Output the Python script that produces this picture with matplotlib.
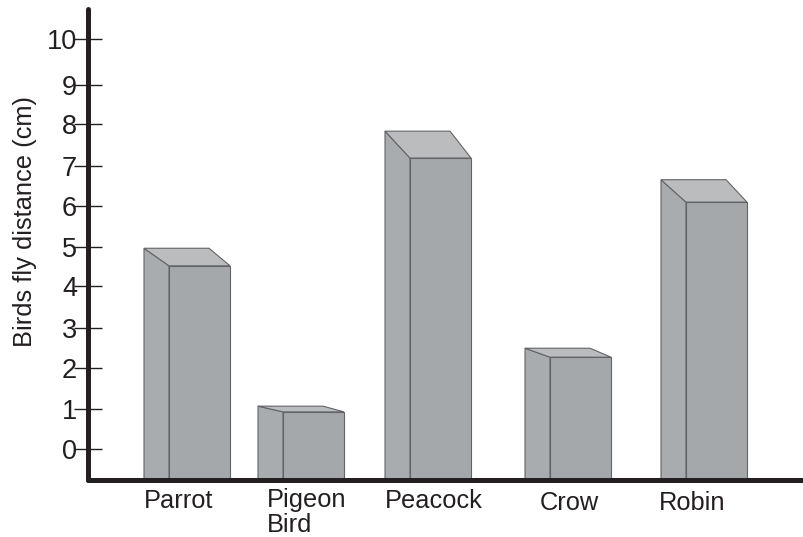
import matplotlib
matplotlib.use('Agg')
import matplotlib.pyplot as plt
from matplotlib.patches import Polygon

birds = ['Parrot', 'Pigeon\nBird', 'Peacock', 'Crow', 'Robin']
front_height = [4.49, 0.91, 7.13, 2.25, 6.05]
back_height = [4.92, 1.05, 7.79, 2.47, 6.60]
tick_labels = ['0', '1', '2', '3', '4', '5', '6', '7', '8', '9', '10']
# the ticks in the picture are not quite evenly spaced
tick_values = [0, 0.98, 1.98, 2.97, 3.99, 4.95, 5.96, 6.94, 7.97, 8.92, 10.06]

W, H = 804, 537
X0, Y0 = 88, 480      # axis corner in pixels
PX_PER_UNIT = 40.8

front_left = [81, 195, 322, 462, 598]
label_x = [56, 179, 297, 452, 571]
label_y = [-0.98, -0.96, -0.98, -1.02, -1.02]
BAR_W = 61
BACK_W = 65
DEPTH = 25
BASE = -0.76

side_col = '#a9acae'
front_col = '#a5a8aa'
top_col = '#bbbcbe'
edge_col = '#626467'
axis_col = '#231f20'

plt.rcParams['font.family'] = ['Liberation Sans', 'DejaVu Sans']

fig = plt.figure(figsize=(W / 100, H / 100), dpi=100)
ax = fig.add_axes([X0 / W, (H - Y0) / H, (W - X0) / W, (Y0 - 9) / H])
ax.set_xlim(0, W - X0)
ax.set_ylim(BASE, BASE + (Y0 - 9) / PX_PER_UNIT)

for left, f, b in zip(front_left, front_height, back_height):
    right = left + BAR_W
    back = left - DEPTH
    side = [(back, BASE), (back, b), (left, f), (left, BASE)]
    top = [(back, b), (back + BACK_W, b), (right, f), (left, f)]
    front = [(left, BASE), (left, f), (right, f), (right, BASE)]
    ax.add_patch(Polygon(side, closed=True, fc=side_col, ec=edge_col, lw=0.8))
    ax.add_patch(Polygon(top, closed=True, fc=top_col, ec=edge_col, lw=0.8))
    ax.add_patch(Polygon(front, closed=True, fc=front_col, ec=edge_col, lw=0.8))

for name, x, y in zip(birds, label_x, label_y):
    ax.text(x, y, name, fontsize=18.3, color=axis_col, ha='left', va='top',
            linespacing=1.03, clip_on=False)

for s in ['top', 'right']:
    ax.spines[s].set_visible(False)
for s in ['left', 'bottom']:
    ax.spines[s].set_linewidth(3.6)
    ax.spines[s].set_color(axis_col)
    ax.spines[s].set_capstyle('round')

ax.set_xticks([])
ax.set_yticks(tick_values)
ax.set_yticklabels(tick_labels, fontsize=19.5, color=axis_col)
ax.tick_params(axis='y', direction='inout', length=20, width=1.0, color=axis_col, pad=-2)
ax.set_ylabel('Birds fly distance (cm)', fontsize=18.4, color=axis_col)
ax.yaxis.set_label_coords(-51 / (W - X0), 0.549)

fig.savefig('out.png', dpi=100)
plt.close(fig)
